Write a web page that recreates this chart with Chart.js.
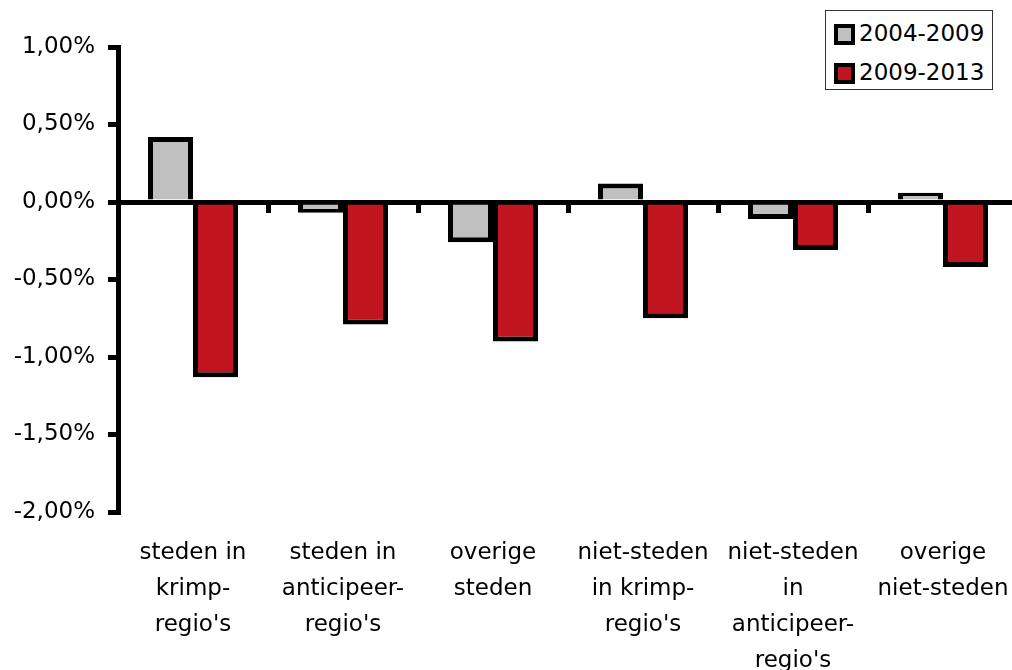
<!DOCTYPE html>
<html><head><meta charset="utf-8">
<script src="https://cdn.jsdelivr.net/npm/chart.js@4"></script>
<style>
html,body{margin:0;padding:0;overflow:hidden;background:#fff;width:1012px;height:670px}
#wrap{position:relative;width:1030px;height:670px}
#legend{position:absolute;left:825px;top:10px;width:166px;height:78px;border:1px solid #333;background:#fff;font-family:'DejaVu Sans';font-size:23px;color:#000}
.sw{position:absolute;left:8px;width:13px;height:13px;border:4px solid #000}
.tx{position:absolute;left:33px;line-height:26px;white-space:nowrap}
</style></head><body>
<div id="wrap"><canvas id="c" width="1030" height="670"></canvas>
<div id="legend"></div></div>
<script>
const categories = [["steden in","krimp-","regio's"],["steden in","anticipeer-","regio's"],["overige","steden"],["niet-steden","in krimp-","regio's"],["niet-steden","in","anticipeer-","regio's"],["overige","niet-steden"]];
const seriesNames = ['2004-2009','2009-2013'];
const values2004_2009 = [0.42,-0.07,-0.26,0.12,-0.11,0.06];
const values2009_2013 = [-1.13,-0.79,-0.90,-0.75,-0.31,-0.42];
const seriesColors = ['#C0C0C0','#C0141F'];
const yTickValues = [-2,-1.5,-1,-0.5,0,0.5,1];
const fmt = v => v.toFixed(2).replace('.', ',') + '%';

const legend = document.getElementById('legend');
seriesNames.forEach((n,i)=>{
  const sw=document.createElement('div'); sw.className='sw'; sw.style.top=(13+i*39)+'px'; sw.style.background=seriesColors[i];
  const tx=document.createElement('div'); tx.className='tx'; tx.style.top=(9+i*39)+'px'; tx.textContent=n;
  legend.appendChild(sw); legend.appendChild(tx);
});

const font = {family:'DejaVu Sans', size:23};
const barStyle = {borderColor:'#000', borderWidth:5, borderSkipped:'start', categoryPercentage:0.6, barPercentage:1};
new Chart(document.getElementById('c'), {
  type:'bar',
  data:{labels:categories, datasets:[
    Object.assign({label:seriesNames[0], data:values2004_2009, backgroundColor:seriesColors[0]}, barStyle),
    Object.assign({label:seriesNames[1], data:values2009_2013, backgroundColor:seriesColors[1]}, barStyle)
  ]},
  options:{
    responsive:false, animation:false, devicePixelRatio:1,
    layout:{padding:{top:47,right:12,left:0,bottom:0}},
    plugins:{legend:{display:false}, tooltip:{enabled:false}},
    scales:{
      x:{position:'bottom', grid:{display:false}, border:{display:false},
         ticks:{color:'#000', font:{family:'DejaVu Sans', size:23, lineHeight:1.565}, padding:15, maxRotation:0, autoSkip:false},
         afterFit:s=>{s.height=158;}},
      x2:{type:'category', position:{y:0}, offset:true, labels:categories, z:1,
          grid:{display:true, drawOnChartArea:false, offset:true, color:'#000', lineWidth:5, tickLength:8},
          border:{display:true, color:'#000', width:5}, ticks:{display:false}},
      y:{min:-2, max:1,
         afterBuildTicks:s=>{s.ticks = yTickValues.map(v=>({value:v}));},
         grid:{drawOnChartArea:false, color:'#000', lineWidth:5, tickLength:10},
         border:{color:'#000', width:5},
         ticks:{color:'#000', font:font, padding:13, callback:v=>fmt(v)},
         afterFit:s=>{s.width=118;}}
    }
  }
});
</script>
</body></html>
